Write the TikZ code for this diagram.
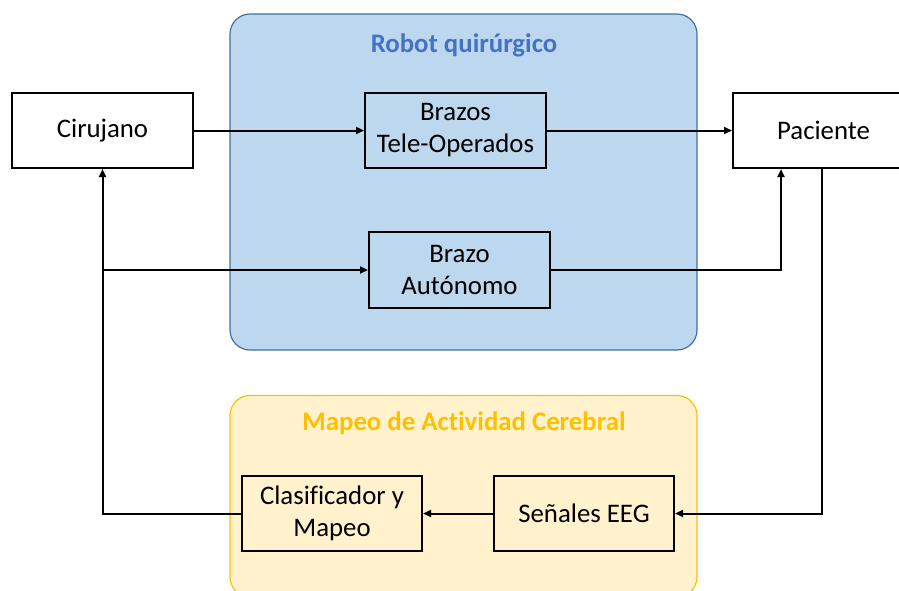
\documentclass[tikz,border=0pt]{standalone}
\usepackage{fontspec}
\setmainfont{Carlito}[Ligatures=NoCommon]
\usetikzlibrary{arrows.meta}
\definecolor{bluefill}{HTML}{BDD7EE}
\definecolor{blueline}{HTML}{41719C}
\definecolor{bluetitle}{HTML}{4472C4}
\definecolor{yelfill}{HTML}{FFF2CC}
\definecolor{yelline}{HTML}{FFC000}
\definecolor{yeltitle}{HTML}{FFC000}
\tikzset{
  blockbox/.style={draw=black, line width=2pt, minimum width=181pt, minimum height=75pt,
    inner sep=0pt, align=center, font=\fontsize{26.8}{32}\selectfont},
  groupbox/.style={rounded corners=20pt, line width=1.2pt},
  grouptitle/.style={font=\fontsize{26.8}{32}\selectfont\bfseries},
  arr/.style={line width=2pt, -{Triangle[length=8pt,width=7pt]}},
  plainline/.style={line width=2pt}
}
\begin{document}
\begin{tikzpicture}[x=1pt,y=-1pt]
\useasboundingbox (0,0) rectangle (899,590);
% group boxes
\draw[groupbox, fill=bluefill, draw=blueline] (230,14) rectangle (697,350);
\node[grouptitle, text=bluetitle] (t1) at (464,45) {Robot quirúrgico};
\draw[groupbox, fill=yelfill, draw=yelline] (230,395.5) rectangle (697,597);
\node[grouptitle, text=yeltitle] (t2) at (464,423) {Mapeo de Actividad Cerebral};
% blocks
\node[blockbox] (cir) at (102.5,130.5) {\raisebox{-1.5pt}{Cirujano}};
\node[blockbox] (bto) at (455.5,130.5) {Brazos\\Tele-Operados};
\node[blockbox] (pac) at (823.5,130.5) {\raisebox{-1.5pt}{Paciente}};
\node[blockbox, minimum height=76pt] (bau) at (459.5,270) {Brazo\\Autónomo};
\node[blockbox, minimum width=180pt] (cla) at (332,513.5) {Clasificador y\\Mapeo};
\node[blockbox, minimum width=180pt] (eeg) at (584,513.5) {\raisebox{-1.5pt}{Señales EEG}};
% connectors
\draw[arr] (cir.east) -- (bto.west);
\draw[arr] (bto.east) -- (pac.west);
\draw[arr] (bau.east) -| ([xshift=-42.5pt]pac.south);
\draw[arr] (cla.west) -| (cir.south);
\coordinate (j) at (cir.south |- bau.west);
\draw[arr] (j) -- (bau.west);
\draw[arr] ([xshift=-1.5pt]pac.south) |- (eeg.east);
\draw[arr] (eeg.west) -- (cla.east);
\end{tikzpicture}
\end{document}
